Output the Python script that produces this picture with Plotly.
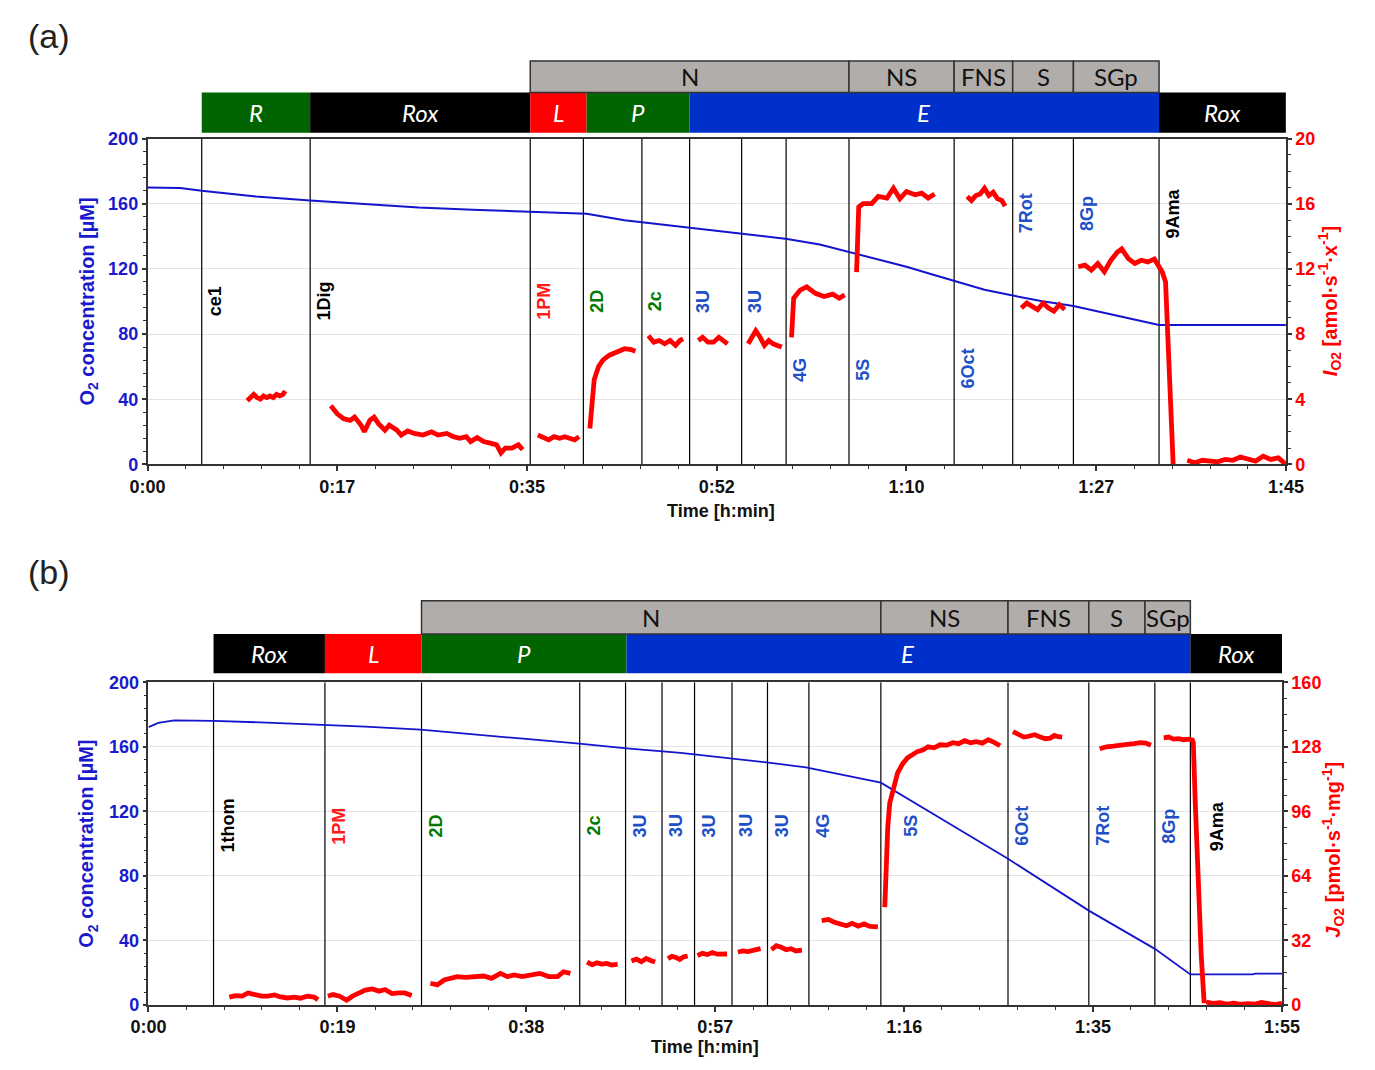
import plotly.graph_objects as go

W, H = 1375, 1070

# ======================= Panel (a) data =======================
a_xtick_vals = [0, 17.5, 35, 52.5, 70, 87.5, 105]
a_xtick_text = ["0:00", "0:17", "0:35", "0:52", "1:10", "1:27", "1:45"]

a_blue_t = [0, 3, 5, 10, 15, 20, 25, 30, 35, 40.5, 44, 49, 55, 59, 62, 64.7, 67, 70,
            72.4, 74.4, 77.2, 79.8, 82.4, 85.4, 89.3, 93.3, 96, 100, 105]
a_blue_v = [170, 169.7, 168, 164.5, 162, 159.8, 157.6, 156.3, 155, 153.8, 149.8, 146, 141.6,
            138.4, 135, 130.5, 126.5, 121.3, 116.5, 112.5, 107.2, 103.6, 100.3, 97.2, 91.2,
            85.5, 85.5, 85.5, 85.5]

a_red_t = [9.2, 9.5, 9.8, 10.1, 10.4, 10.7, 11.0, 11.3, 11.6, 11.9, 12.2, 12.5, 12.7, None,
           16.9, 17.5, 18.1, 18.7, 19.1, 19.7, 20.0, 20.5, 20.9, 21.3, 21.9, 22.3, 23.0, 23.4,
           24.0, 24.6, 25.4, 26.2, 26.8, 27.6, 28.2, 28.8, 29.4, 29.8, 30.4, 31.0, 31.6, 32.2,
           32.6, 33.0, 33.6, 34.2, 34.6, None,
           36.0, 36.5, 37.0, 37.5, 38.0, 38.5, 39.0, 39.4, 39.8, None,
           40.8, 41.0, 41.2, 41.6, 42.0, 42.6, 43.4, 44.0, 44.6, 45.0, None,
           46.2, 46.7, 47.2, 47.7, 48.2, 48.7, 49.1, 49.4, None,
           50.8, 51.2, 51.7, 52.2, 52.7, 53.1, 53.5, None,
           55.4, 55.8, 56.1, 56.5, 56.9, 57.3, 57.7, 58.1, 58.5, None,
           59.4, 59.6, 60.2, 60.8, 61.6, 62.4, 63.2, 63.8, 64.3, None,
           65.4, 65.45, 65.6, 66.0, 66.8, 67.4, 68.2, 68.8, 69.4, 70.0, 70.8, 71.4, 72.0, 72.6, None,
           75.6, 76.0, 76.4, 76.8, 77.2, 77.6, 78.0, 78.4, 78.8, 79.1, None,
           80.6, 81.1, 81.6, 82.1, 82.6, 83.1, 83.6, 84.1, 84.6, None,
           85.85, 86.45, 87.05, 87.65, 88.25, 88.86, 89.46, 89.86, 90.46, 91.06, 91.66, 92.26,
           92.87, 93.27, 93.6, 93.9, 94.1, 94.3, 94.6, None,
           95.9, 96.6, 97.3, 98.0, 98.7, 99.4, 100.1, 100.8, 101.5, 102.2, 102.9, 103.6, 104.3, 105.0]
a_red_v = [3.9, 4.1, 4.3, 4.1, 4.0, 4.2, 4.1, 4.2, 4.1, 4.3, 4.2, 4.3, 4.5, None,
           3.6, 3.1, 2.8, 2.7, 2.9, 2.4, 2.0, 2.7, 2.9, 2.5, 2.1, 2.4, 2.1, 1.8,
           2.05, 1.9, 1.8, 2.0, 1.8, 1.9, 1.7, 1.6, 1.7, 1.4, 1.65, 1.4, 1.3, 1.2,
           0.7, 1.0, 1.0, 1.2, 0.9, None,
           1.8, 1.65, 1.5, 1.7, 1.6, 1.7, 1.55, 1.5, 1.7, None,
           2.2, 4.2, 5.2, 6.0, 6.4, 6.7, 6.95, 7.1, 7.05, 6.95, None,
           7.9, 7.5, 7.6, 7.4, 7.6, 7.3, 7.6, 7.7, None,
           7.6, 7.8, 7.5, 7.5, 7.8, 7.6, 7.4, None,
           7.4, 7.9, 8.2, 7.8, 7.3, 7.6, 7.4, 7.3, 7.2, None,
           7.8, 10.2, 10.7, 10.9, 10.5, 10.3, 10.45, 10.2, 10.4, None,
           11.8, 13.5, 15.8, 16.0, 16.0, 16.45, 16.35, 16.95, 16.3, 16.75, 16.55, 16.65, 16.35, 16.6, None,
           16.45, 16.2, 16.5, 16.6, 16.95, 16.5, 16.7, 16.3, 16.2, 15.85, None,
           9.6, 9.9, 9.7, 9.5, 9.9, 9.6, 9.4, 9.8, 9.5, None,
           12.13, 12.23, 11.93, 12.33, 11.83, 12.53, 13.03, 13.23, 12.63, 12.33, 12.53, 12.43,
           12.6, 12.23, 11.8, 11.2, 8.2, 4.2, 0.0, None,
           0.25, 0.1, 0.25, 0.2, 0.15, 0.3, 0.25, 0.45, 0.3, 0.2, 0.5, 0.3, 0.4, 0.0]

a_event_t = [5.0, 15.0, 35.3, 40.2, 45.6, 50.0, 54.8, 58.9, 64.7, 74.4, 79.8, 85.4, 93.3]
a_event_lbl = ["ce1", "1Dig", "1PM", "2D", "2c", "3U", "3U", "4G", "5S", "6Oct", "7Rot", "8Gp", "9Ama"]
a_event_col = ["k", "k", "r", "g", "g", "b", "b", "b", "b", "b", "b", "b", "k"]

a_row1_start = [5.0, 15.0, 35.3, 40.5, 50.0, 93.3]
a_row1_end = [15.0, 35.3, 40.5, 50.0, 93.3, 105.0]
a_row1_lbl = ["R", "Rox", "L", "P", "E", "Rox"]
a_row1_col = ["g", "k", "r", "g", "b", "k"]
a_row2_start = [35.3, 64.7, 74.4, 79.8, 85.4]
a_row2_end = [64.7, 74.4, 79.8, 85.4, 93.3]
a_row2_lbl = ["N", "NS", "FNS", "S", "SGp"]

# ======================= Panel (b) data =======================
b_xtick_vals = [0, 19.1667, 38.3333, 57.5, 76.6667, 95.8333, 115]
b_xtick_text = ["0:00", "0:19", "0:38", "0:57", "1:16", "1:35", "1:55"]

b_blue_t = [0, 1.0, 2.6, 6.6, 12.0, 17.9, 22.0, 27.6, 33.0, 38.0, 43.7, 48.5, 54.0, 58.4,
            62.7, 66.7, 71.6, 74.3, 80.0, 87.2, 95.4, 102.1, 105.7, 112.0, 112.3, 115.0]
b_blue_v = [172.2, 174.8, 176.3, 176.0, 175.0, 173.6, 172.5, 170.6, 167.5, 165.0, 161.9,
            159.0, 156.2, 153.3, 150.3, 147.3, 141.2, 137.8, 117.0, 90.6, 58.5, 34.8, 19.0,
            19.0, 19.5, 19.5]

b_red_t = [8.2, 8.8, 9.5, 10.1, 10.8, 11.5, 12.1, 12.8, 13.4, 14.1, 14.8, 15.4, 16.1, 16.8, 17.2, None,
           18.2, 18.7, 19.4, 20.1, 20.7, 21.4, 22.0, 22.7, 23.4, 24.0, 24.7, 25.4, 26.0, 26.7, None,
           28.6, 29.3, 30.0, 30.6, 31.3, 32.2, 33.1, 34.0, 34.8, 35.7, 36.4, 37.1, 37.9, 38.8,
           39.7, 40.6, 41.5, 42.1, 42.8, None,
           44.5, 45.0, 45.5, 46.0, 46.5, 47.0, 47.6, None,
           49.0, 49.5, 50.0, 50.5, 51.0, 51.4, None,
           52.7, 53.1, 53.5, 53.9, 54.3, 54.7, None,
           55.7, 56.2, 56.7, 57.2, 57.7, 58.2, 58.7, None,
           59.8, 60.3, 60.8, 61.3, 61.7, 62.1, None,
           63.2, 63.7, 64.2, 64.7, 65.2, 65.7, 66.3, None,
           68.3, 69.0, 69.6, 70.2, 70.8, 71.4, 72.0, 72.6, 73.2, 74.0, None,
           74.7, 74.85, 75.0, 75.2, 75.5, 76.0, 76.5, 77.0, 77.5, 78.0, 78.6, 79.1, 79.7, 80.3,
           81.0, 81.6, 82.2, 82.8, 83.4, 84.0, 84.6, 85.2, 85.8, 86.4, None,
           87.7, 88.2, 88.8, 89.3, 89.9, 90.4, 91.0, 91.5, 91.9, 92.3, 92.7, None,
           96.5, 97.2, 97.9, 98.6, 99.3, 100.0, 100.6, 101.2, 101.7, None,
           103.0, 103.5, 104.0, 104.5, 105.0, 105.5, 105.9, 106.0, 106.2, 106.5, 106.8, 107.1, None,
           107.3, 108.0, 108.7, 109.4, 110.1, 110.8, 111.5, 112.2, 112.9, 113.6, 114.3, 115.0]
b_red_v = [3.9, 4.7, 4.4, 6.0, 5.2, 4.4, 4.4, 5.0, 4.0, 3.5, 3.9, 3.4, 4.4, 3.9, 2.7, None,
           4.4, 5.2, 4.4, 2.4, 4.4, 6.0, 7.4, 8.0, 6.9, 7.7, 5.7, 6.0, 6.0, 4.7, None,
           10.8, 10.0, 12.4, 13.2, 14.1, 13.7, 14.1, 14.4, 13.2, 15.7, 14.1, 14.9, 14.1, 14.9,
           15.7, 14.1, 14.1, 16.5, 15.7, None,
           21.3, 20.0, 20.9, 20.3, 20.6, 19.8, 20.3, None,
           21.8, 22.8, 21.5, 23.1, 22.0, 21.3, None,
           23.0, 24.1, 23.6, 22.6, 23.9, 24.3, None,
           24.6, 25.6, 25.0, 26.0, 25.2, 25.5, 25.3, None,
           26.3, 26.8, 26.5, 27.1, 27.3, 28.0, None,
           27.5, 29.4, 28.6, 27.4, 27.9, 26.8, 27.2, None,
           41.8, 42.4, 41.0, 40.0, 39.3, 40.5, 39.1, 40.2, 39.0, 38.7, None,
           48.5, 70, 88, 100, 106, 115, 119.5, 122.5, 124, 125.6, 126.5, 128, 127.5, 129,
           128.8, 130, 129.5, 131, 130, 130.5, 129.8, 131.5, 130.2, 128.5, None,
           135.5, 134, 132.8, 133.2, 134, 133, 132, 132.3, 133.6, 133, 132.8, None,
           127, 128, 128.3, 129, 129.2, 129.5, 130, 129.8, 128.8, None,
           132.4, 132.8, 131.8, 132, 131.5, 131.8, 131.3, 130, 100, 60, 25, 1, None,
           1.5, 0.8, 1.2, 0.5, 0.9, 0.3, 0.7, 0.4, 1.3, 0.6, 0.2, 0.9]

b_event_t = [6.6, 17.9, 27.7, 43.75, 48.4, 52.1, 55.4, 59.2, 62.8, 67.0, 74.3, 87.2, 95.4, 102.1, 105.7]
b_event_lbl = ["1thom", "1PM", "2D", "2c", "3U", "3U", "3U", "3U", "3U", "4G", "5S", "6Oct", "7Rot", "8Gp", "9Ama"]
b_event_col = ["k", "r", "g", "g", "b", "b", "b", "b", "b", "b", "b", "b", "b", "b", "k"]

b_row1_start = [6.6, 17.9, 27.7, 48.5, 105.7]
b_row1_end = [17.9, 27.7, 48.5, 105.7, 115.0]
b_row1_lbl = ["Rox", "L", "P", "E", "Rox"]
b_row1_col = ["k", "r", "g", "b", "k"]
b_row2_start = [27.7, 74.3, 87.2, 95.4, 101.1]
b_row2_end = [74.3, 87.2, 95.4, 101.1, 105.7]
b_row2_lbl = ["N", "NS", "FNS", "S", "SGp"]

# ======================= label placement (layout, not data) =======================
a_lbl_place_y = [100, 100, 100, 100, 100, 100, 100, 58, 58, 59, 154, 154, 154]
a_lbl_shift_px = [2] * 13
b_lbl_place_y = [111] * 15
b_lbl_shift_px = [2, 2, 2, 2, 2, 2, 2, 2, 2, 2, 18, 2, 2, 2, 15]

# ======================= styling =======================
BAR_COL = {"g": "#006400", "k": "#000000", "r": "#ff0000", "b": "#0030cc"}
LBL_COL = {"g": "#007a00", "k": "#000000", "r": "#ff1a1a", "b": "#2050c8"}
BLUE_LINE = "#1414cc"
RED_LINE = "#ff0000"
AX_BLUE = "#1a1acc"
AX_RED = "#ff0000"
FRAME = "#333333"
GRAY_BOX = "#b1adaa"
TICK_FONT = "Liberation Sans, Arial, sans-serif"
HDR_FONT = "Lato, Open Sans, sans-serif"


def px_x(p):
    return p / W


def px_y(p):
    return 1 - p / H


fig = go.Figure()
fig.add_trace(go.Scatter(x=a_blue_t, y=a_blue_v, mode="lines", xaxis="x", yaxis="y",
                         line=dict(color=BLUE_LINE, width=2), showlegend=False))
fig.add_trace(go.Scatter(x=a_red_t, y=a_red_v, mode="lines", xaxis="x", yaxis="y2",
                         line=dict(color=RED_LINE, width=4.8), connectgaps=False, showlegend=False))
fig.add_trace(go.Scatter(x=b_blue_t, y=b_blue_v, mode="lines", xaxis="x2", yaxis="y3",
                         line=dict(color=BLUE_LINE, width=1.8), showlegend=False))
fig.add_trace(go.Scatter(x=b_red_t, y=b_red_v, mode="lines", xaxis="x2", yaxis="y4",
                         line=dict(color=RED_LINE, width=4.8), connectgaps=False, showlegend=False))

# panel geometry (pixels)
A_L, A_R, A_T, A_B = 133, 1302, 131, 463
B_L, B_R, B_T, B_B = 134, 1298, 685, 1014


def xaxis_cfg(dom_l, dom_r, anchor, rng, tv, tt, minor_dt):
    return dict(domain=[px_x(dom_l), px_x(dom_r)], anchor=anchor, range=rng,
                tickmode="array", tickvals=tv, ticktext=tt,
                ticks="outside", ticklen=5, tickwidth=1.5, tickcolor=FRAME,
                showline=True, linecolor=FRAME, linewidth=1.5, mirror=True,
                showgrid=False, zeroline=False,
                tickfont=dict(family=TICK_FONT, size=18, color="#111111", weight="bold"),
                minor=dict(ticks="outside", ticklen=3, tickwidth=1, tickcolor=FRAME,
                           tick0=0, dtick=minor_dt, showgrid=False))


def yleft_cfg(dom_b, dom_t, anchor):
    return dict(domain=[px_y(dom_b), px_y(dom_t)], anchor=anchor, range=[0, 200],
                tick0=0, dtick=40, ticks="outside", ticklen=4, tickwidth=1.5, tickcolor=FRAME,
                showline=True, linecolor=FRAME, linewidth=1.5,
                showgrid=True, gridcolor="#e2e2e2", gridwidth=1, zeroline=False,
                tickfont=dict(family=TICK_FONT, size=18, color=AX_BLUE, weight="bold"),
                minor=dict(ticks="outside", ticklen=3, tickwidth=1, tickcolor=FRAME,
                           tick0=0, dtick=8, showgrid=False))


def yright_cfg(over, anchor, top, dt, minor_dt):
    return dict(overlaying=over, anchor=anchor, side="right", range=[0, top],
                tick0=0, dtick=dt, ticks="outside", ticklen=4, tickwidth=1.5, tickcolor=FRAME,
                showline=True, linecolor=FRAME, linewidth=1.5,
                showgrid=False, zeroline=False,
                tickfont=dict(family=TICK_FONT, size=18, color=AX_RED, weight="bold"),
                minor=dict(ticks="outside", ticklen=3, tickwidth=1, tickcolor=FRAME,
                           tick0=0, dtick=minor_dt, showgrid=False))


shapes = []
annotations = []


def add_events(ts, lbls, cols, lys, shifts, xref, yref):
    for t, lb, c, ly, sh in zip(ts, lbls, cols, lys, shifts):
        shapes.append(dict(type="line", xref=xref, yref=yref, x0=t, x1=t, y0=0, y1=200,
                           line=dict(color="#000000", width=1.2), layer="between"))
        annotations.append(dict(x=t, y=ly, xref=xref, yref=yref, text=lb, showarrow=False,
                                textangle=-90, xanchor="left", yanchor="middle", xshift=sh,
                                font=dict(family=TICK_FONT, size=18, color=LBL_COL[c], weight="bold")))


def add_header(xref, r1s, r1e, r1l, r1c, r2s, r2e, r2l, r1_top, r1_bot, r2_top, r2_bot):
    for s, e, lb, c in zip(r1s, r1e, r1l, r1c):
        shapes.append(dict(type="rect", xref=xref, yref="paper", x0=s, x1=e,
                           y0=px_y(r1_bot), y1=px_y(r1_top), fillcolor=BAR_COL[c],
                           line=dict(width=0), layer="above"))
        annotations.append(dict(x=(s + e) / 2, y=px_y((r1_top + r1_bot) / 2), xref=xref, yref="paper",
                                text="<i>" + lb + "</i>", showarrow=False, xanchor="center",
                                yanchor="middle",
                                font=dict(family=HDR_FONT, size=24, color="#ffffff")))
    for s, e, lb in zip(r2s, r2e, r2l):
        shapes.append(dict(type="rect", xref=xref, yref="paper", x0=s, x1=e,
                           y0=px_y(r2_bot), y1=px_y(r2_top), fillcolor=GRAY_BOX,
                           line=dict(width=1.5, color=FRAME), layer="above"))
        annotations.append(dict(x=(s + e) / 2, y=px_y((r2_top + r2_bot) / 2), xref=xref, yref="paper",
                                text=lb, showarrow=False, xanchor="center", yanchor="middle",
                                font=dict(family=HDR_FONT, size=24, color="#111111")))


add_events(a_event_t, a_event_lbl, a_event_col, a_lbl_place_y, a_lbl_shift_px, "x", "y")
add_events(b_event_t, b_event_lbl, b_event_col, b_lbl_place_y, b_lbl_shift_px, "x2", "y3")
add_header("x", a_row1_start, a_row1_end, a_row1_lbl, a_row1_col,
           a_row2_start, a_row2_end, a_row2_lbl, 84, 125, 52, 84)
add_header("x2", b_row1_start, b_row1_end, b_row1_lbl, b_row1_col,
           b_row2_start, b_row2_end, b_row2_lbl, 636, 676, 602, 636)


def title_ann(text, xp, yp, color, angle, size=20):
    annotations.append(dict(x=px_x(xp), y=px_y(yp), xref="paper", yref="paper", text=text,
                            showarrow=False, textangle=angle, xanchor="center", yanchor="middle",
                            font=dict(family=TICK_FONT, size=size, color=color, weight="bold")))


title_ann("O<sub>2</sub> concentration [µM]", 72, (A_T + A_B) / 2, AX_BLUE, -90)
title_ann("<i>I</i><sub>O2</sub> [amol·s<sup>-1</sup>·x<sup>-1</sup>]", 1347, (A_T + A_B) / 2, AX_RED, -90)
title_ann("Time [h:min]", 722, 511, "#111111", 0, 18)
title_ann("O<sub>2</sub> concentration [µM]", 72, (B_T + B_B) / 2, AX_BLUE, -90)
title_ann("<i>J</i><sub>O2</sub> [pmol·s<sup>-1</sup>·mg<sup>-1</sup>]", 1350, 856, AX_RED, -90)
title_ann("Time [h:min]", 705, 1057, "#111111", 0, 18)

for lab, yp in (("(a)", 27), ("(b)", 573)):
    annotations.append(dict(x=px_x(8), y=px_y(yp), xref="paper", yref="paper", text=lab,
                            showarrow=False, xanchor="left", yanchor="middle",
                            font=dict(family=TICK_FONT, size=34, color="#222222")))

fig.update_layout(
    width=W, height=H, autosize=False,
    margin=dict(l=0, r=0, t=0, b=0),
    paper_bgcolor="#ffffff", plot_bgcolor="#ffffff",
    xaxis=xaxis_cfg(A_L, A_R, "y", [0, 105], a_xtick_vals, a_xtick_text, 3.5),
    yaxis=yleft_cfg(A_B, A_T, "x"),
    yaxis2=yright_cfg("y", "x", 20, 4, 1),
    xaxis2=xaxis_cfg(B_L, B_R, "y3", [0, 115], b_xtick_vals, b_xtick_text, 115 / 30),
    yaxis3=yleft_cfg(B_B, B_T, "x2"),
    yaxis4=yright_cfg("y3", "x2", 160, 32, 8),
    shapes=shapes,
    annotations=annotations,
    showlegend=False,
)

fig.write_html("out.html")
